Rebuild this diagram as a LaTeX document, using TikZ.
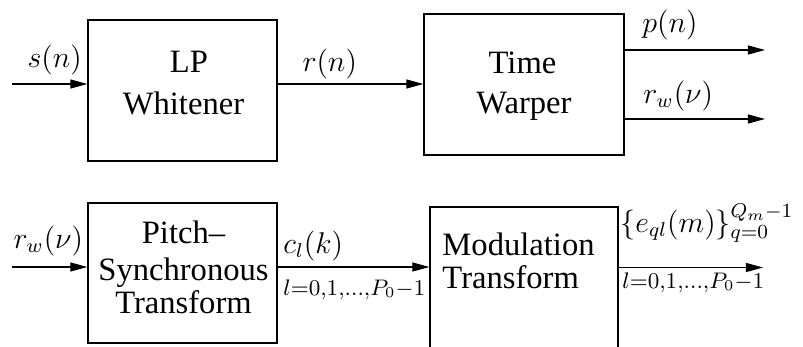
\documentclass[tikz,border=0pt]{standalone}
\usepackage{fontspec}
\setmainfont{Liberation Serif}
\usetikzlibrary{arrows.meta}

\tikzset{
  blk/.style={draw, line width=0.52pt, inner sep=0pt},
  arr/.style={line width=0.42pt, -{Triangle[length=6.8pt,width=3.6pt]}},
  txt/.style={anchor=base, inner sep=0pt, font=\fontsize{13.04}{15}\selectfont},
  txtl/.style={anchor=base west, inner sep=0pt, font=\fontsize{13.04}{15}\selectfont},
  sig/.style={anchor=base west, inner sep=0pt, font=\fontsize{12}{14}\selectfont},
  idx/.style={anchor=base west, inner sep=0pt, font=\fontsize{12.86}{14}\selectfont},
}

\begin{document}
\begin{tikzpicture}[x=0.4pt, y=-0.4pt]
  \clip (0,0) rectangle (803,347);
  \useasboundingbox (0,0) rectangle (803,347);

  % ---- upper chain: whitening and time warping ----
  \node[blk, minimum width=75.6pt, minimum height=56.4pt] (lpw) at (182.5,90.5) {};
  \node[blk, minimum width=80pt, minimum height=56.4pt] (tw) at (524,84.5) {};

  \node[txt] (lpa) at (189,72) {LP};
  \node[txt] (lpb) at (183.5,114) {Whitener};
  \node[txt] (twa) at (522.5,73) {Time};
  \node[txt] (twb) at (524,113) {Warper};

  \coordinate (sIn) at (12,84);
  \coordinate (pOut) at (765,50);
  \coordinate (rwOut) at (765,119);

  \draw[arr] (sIn) -- (sIn -| lpw.west);
  \draw[arr] (lpw.east |- sIn) -- (tw.west |- sIn);
  \draw[arr] (tw.east |- pOut) -- (pOut);
  \draw[arr] (tw.east |- rwOut) -- (rwOut);

  \node[sig] (sLbl) at (27,67) {$s(n)$};
  \node[sig] (rLbl) at (302,71) {$r(n)$};
  \node[sig] (pLbl) at (642,32) {$p(n)$};
  \node[sig] (rwLbl) at (643,103) {$r_w(\nu)$};

  % ---- lower chain: pitch-synchronous and modulation transforms ----
  \node[blk, minimum width=75.6pt, minimum height=56pt] (pst) at (182.5,273) {};
  \node[blk, minimum width=75.2pt, minimum height=64pt] (mt) at (524,287) {};

  \node[txt] (psa) at (183.5,243) {Pitch--};
  \node[txt] (psb) at (183.5,280) {Synchronous};
  \node[txt] (psc) at (183.5,313) {Transform};
  \node[txtl] (mta) at (442,255) {Modulation};
  \node[txtl] (mtb) at (442,288) {Transform};

  \coordinate (rwIn) at (12,267);
  \coordinate (eOut) at (763,267.5);

  \draw[arr] (rwIn) -- (rwIn -| pst.west);
  \draw[arr] (pst.east |- rwIn) -- (mt.west |- rwIn);
  \draw[arr] (mt.east |- eOut) -- (eOut);

  \node[sig] (rwInLbl) at (13,248) {$r_w(\nu)$};
  \node[sig] (cLbl) at (283,253) {$c_l(k)$};
  \node[idx] (cIdx) at (283,295) {$\scriptstyle l=0,1,\ldots,P_0-1$};
  \node[sig] (eLbl) at (620,232) {$\{e_{ql}(m)\}_{q=0}^{Q_m-1}$};
  \node[idx] (eIdx) at (622,288) {$\scriptstyle l=0,1,\ldots,P_0-1$};
\end{tikzpicture}
\end{document}
